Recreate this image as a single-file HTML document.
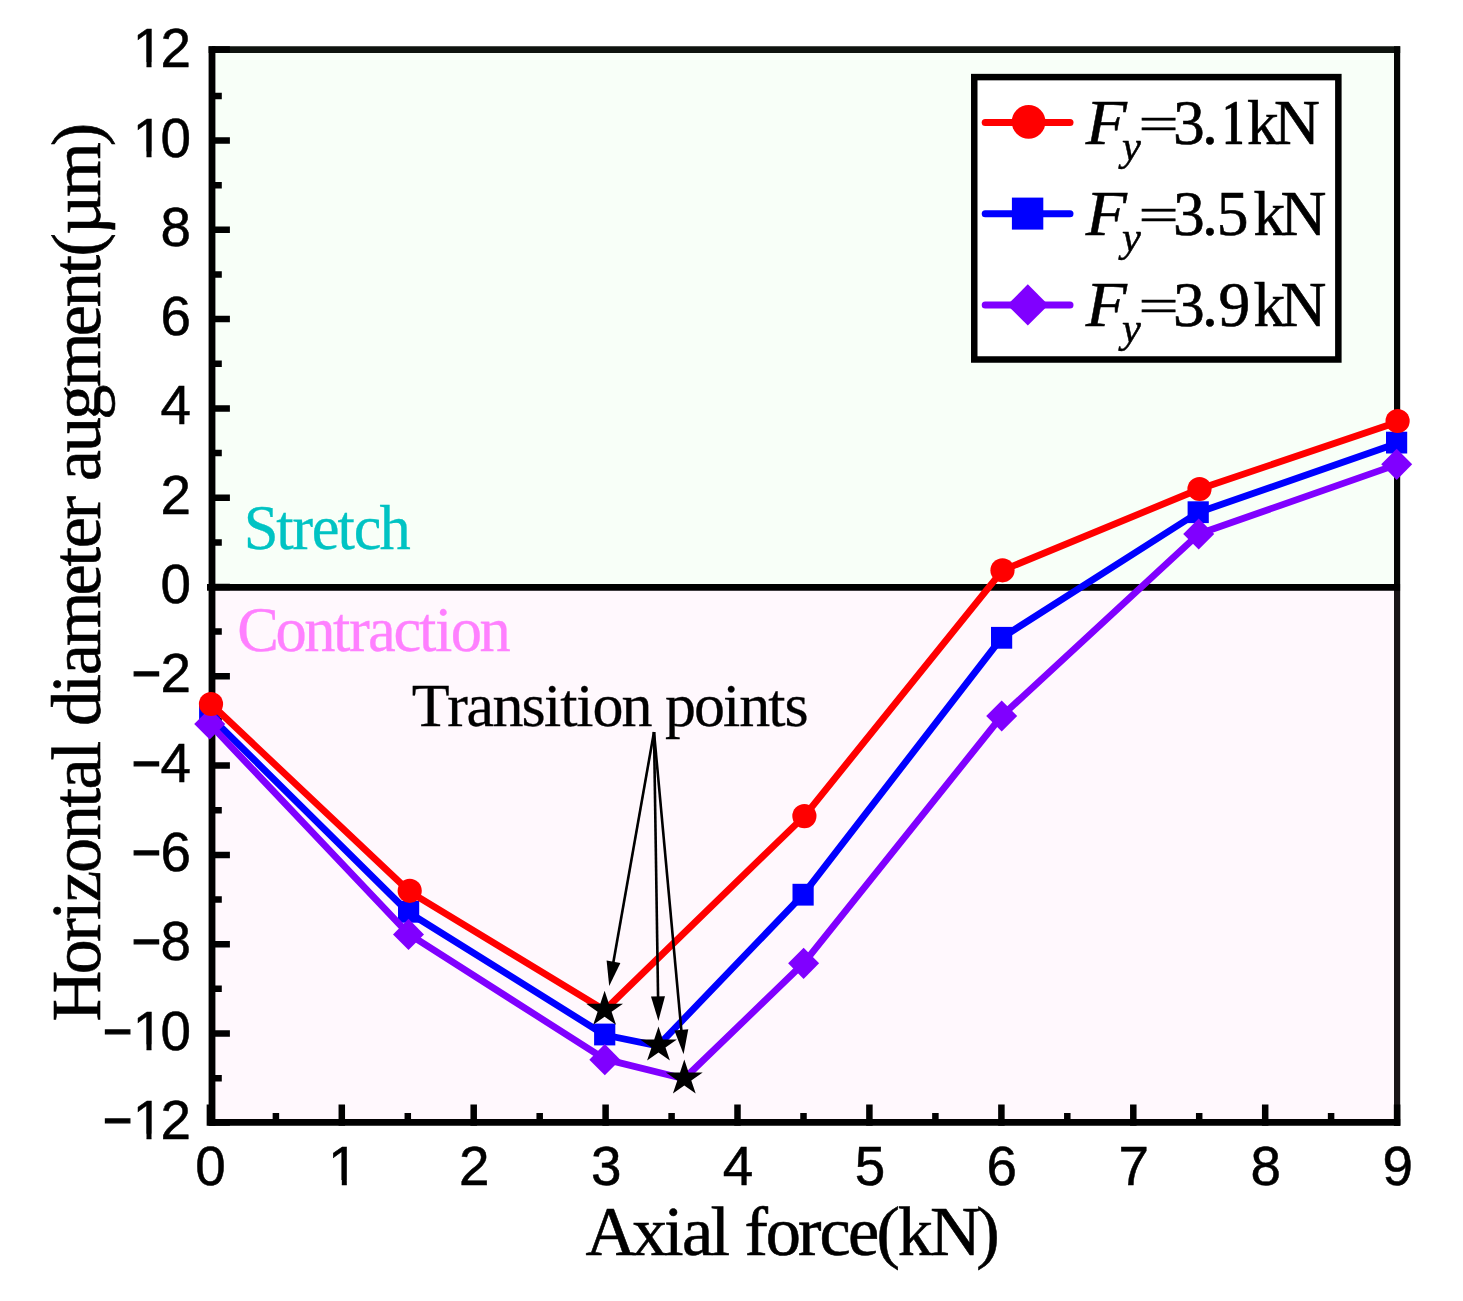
<!DOCTYPE html>
<html lang="en"><head><meta charset="utf-8"><title>Horizontal diameter augment vs axial force</title>
<style>html,body{margin:0;padding:0;background:#fff}svg{display:block}text{font-kerning:none}.ar{font-family:"Liberation Sans",Arial,sans-serif;fill:#000;stroke:#000;stroke-width:.5}.tm{font-family:"Liberation Serif","Times New Roman",serif;fill:#000;stroke:#000;stroke-width:.6}.it{font-family:"Liberation Serif","Times New Roman",serif;font-style:italic;fill:#000;stroke:#000;stroke-width:.5}</style></head><body>
<svg width="1463" height="1301" viewBox="0 0 1463 1301">
<rect width="1463" height="1301" fill="#fff"/>
<rect x="212.0" y="49.6" width="1185.1" height="537.8" fill="#f8fff8"/>
<rect x="212.0" y="587.4" width="1185.1" height="535.0" fill="#fff8fd"/>
<line x1="208.6" y1="49.6" x2="1400.2" y2="49.6" stroke="#0f140f" stroke-width="6.7"/>
<line x1="1397.1" y1="46.3" x2="1397.1" y2="588" stroke="#040604" stroke-width="6.2"/>
<line x1="1397.1" y1="588" x2="1397.1" y2="1125.7" stroke="#191417" stroke-width="6.2"/>
<line x1="212.0" y1="46.3" x2="212.0" y2="1125.7" stroke="#000" stroke-width="6.8"/>
<line x1="208.6" y1="1122.4" x2="1400.2" y2="1122.4" stroke="#000" stroke-width="6.6"/>
<line x1="207" y1="587.4" x2="1400.1" y2="587.4" stroke="#000" stroke-width="6.7"/>
<path d="M212.0 1122.4H229.9 M212.0 1078.2H221.8 M212.0 1033.5H229.9 M212.0 988.8H221.8 M212.0 944.2H229.9 M212.0 899.5H221.8 M212.0 854.9H229.9 M212.0 810.2H221.8 M212.0 765.6H229.9 M212.0 721.0H221.8 M212.0 676.3H229.9 M212.0 631.6H221.8 M212.0 587.0H229.9 M212.0 542.4H221.8 M212.0 497.7H229.9 M212.0 453.1H221.8 M212.0 408.4H229.9 M212.0 363.8H221.8 M212.0 319.1H229.9 M212.0 274.4H221.8 M212.0 229.8H229.9 M212.0 185.2H221.8 M212.0 140.5H229.9 M212.0 95.9H221.8 M212.0 49.6H229.9 M209.9 1125.7V1104.6 M275.9 1122.4V1112.9 M341.8 1125.7V1104.6 M407.8 1122.4V1112.9 M473.7 1125.7V1104.6 M539.7 1122.4V1112.9 M605.6 1125.7V1104.6 M671.6 1122.4V1112.9 M737.5 1125.7V1104.6 M803.5 1122.4V1112.9 M869.4 1125.7V1104.6 M935.4 1122.4V1112.9 M1001.4 1125.7V1104.6 M1067.3 1122.4V1112.9 M1133.3 1125.7V1104.6 M1199.2 1122.4V1112.9 M1265.2 1125.7V1104.6 M1331.1 1122.4V1112.9 M1397.1 1125.7V1104.6" stroke="#000" stroke-width="6.5" fill="none"/>
<defs><clipPath id="nofoot"><path clip-rule="evenodd" d="M0 0H1463V1301H0Z M135.5 1133.7H146.5V1140.8H135.5Z M151.5 1133.7H162.1V1140.8H151.5Z M135.5 1044.4H146.5V1051.5H135.5Z M151.5 1044.4H162.1V1051.5H151.5Z M135.5 151.4H146.5V158.5H135.5Z M151.5 151.4H162.1V158.5H151.5Z M135.5 62.1H146.5V69.2H135.5Z M151.5 62.1H162.1V69.2H151.5Z M330.7 1179.9H341.8V1187.0H330.7Z M346.8 1179.9H357.4V1187.0H346.8Z"/></clipPath></defs>
<text class="ar" font-size="54.8" x="102.8 132.8 160.5" y="1138.8" clip-path="url(#nofoot)"><tspan textLength="29.4" lengthAdjust="spacingAndGlyphs" stroke-width="1.3">−</tspan>12</text>
<text class="ar" font-size="54.8" x="102.8 132.8 160.5" y="1049.5" clip-path="url(#nofoot)"><tspan textLength="29.4" lengthAdjust="spacingAndGlyphs" stroke-width="1.3">−</tspan>10</text>
<text class="ar" font-size="54.8" x="131.5 160.5" y="960.2" clip-path="url(#nofoot)"><tspan textLength="29.4" lengthAdjust="spacingAndGlyphs" stroke-width="1.3">−</tspan>8</text>
<text class="ar" font-size="54.8" x="131.5 160.5" y="870.9" clip-path="url(#nofoot)"><tspan textLength="29.4" lengthAdjust="spacingAndGlyphs" stroke-width="1.3">−</tspan>6</text>
<text class="ar" font-size="54.8" x="131.5 160.5" y="781.6" clip-path="url(#nofoot)"><tspan textLength="29.4" lengthAdjust="spacingAndGlyphs" stroke-width="1.3">−</tspan>4</text>
<text class="ar" font-size="54.8" x="131.5 160.5" y="692.3" clip-path="url(#nofoot)"><tspan textLength="29.4" lengthAdjust="spacingAndGlyphs" stroke-width="1.3">−</tspan>2</text>
<text class="ar" font-size="54.8" x="160.5" y="603.0" clip-path="url(#nofoot)">0</text>
<text class="ar" font-size="54.8" x="160.5" y="513.7" clip-path="url(#nofoot)">2</text>
<text class="ar" font-size="54.8" x="160.5" y="424.4" clip-path="url(#nofoot)">4</text>
<text class="ar" font-size="54.8" x="160.5" y="335.1" clip-path="url(#nofoot)">6</text>
<text class="ar" font-size="54.8" x="160.5" y="245.8" clip-path="url(#nofoot)">8</text>
<text class="ar" font-size="54.8" x="132.8 160.5" y="156.5" clip-path="url(#nofoot)">10</text>
<text class="ar" font-size="54.8" x="132.8 160.5" y="67.2" clip-path="url(#nofoot)">12</text>
<text class="ar" font-size="54.8" x="195.2" y="1185.0" clip-path="url(#nofoot)">0</text>
<text class="ar" font-size="54.8" x="328.1" y="1185.0" clip-path="url(#nofoot)">1</text>
<text class="ar" font-size="54.8" x="459.0" y="1185.0" clip-path="url(#nofoot)">2</text>
<text class="ar" font-size="54.8" x="590.9" y="1185.0" clip-path="url(#nofoot)">3</text>
<text class="ar" font-size="54.8" x="722.8" y="1185.0" clip-path="url(#nofoot)">4</text>
<text class="ar" font-size="54.8" x="854.7" y="1185.0" clip-path="url(#nofoot)">5</text>
<text class="ar" font-size="54.8" x="986.6" y="1185.0" clip-path="url(#nofoot)">6</text>
<text class="ar" font-size="54.8" x="1118.5" y="1185.0" clip-path="url(#nofoot)">7</text>
<text class="ar" font-size="54.8" x="1250.4" y="1185.0" clip-path="url(#nofoot)">8</text>
<text class="ar" font-size="54.8" x="1382.4" y="1185.0" clip-path="url(#nofoot)">9</text>
<polyline points="209.7,715.8 408.6,912.5 604.7,1035.0 657.9,1045.9 803.1,894.7 1001.6,637.8 1198.2,512.5 1396.6,443.5" fill="none" stroke="#0000ff" stroke-width="6.8" stroke-linejoin="round" stroke-linecap="round"/>
<rect x="199.1" y="704.9" width="21.2" height="21.8" fill="#0000ff"/>
<rect x="398.0" y="900.9" width="21.2" height="21.8" fill="#0000ff"/>
<rect x="594.1" y="1023.6" width="21.2" height="21.8" fill="#0000ff"/>
<rect x="792.5" y="883.8" width="21.2" height="21.8" fill="#0000ff"/>
<rect x="991.0" y="626.9" width="21.2" height="21.8" fill="#0000ff"/>
<rect x="1187.6" y="501.3" width="21.2" height="21.8" fill="#0000ff"/>
<rect x="1386.0" y="431.7" width="21.2" height="21.8" fill="#0000ff"/>
<polyline points="209.7,724.0 408.5,933.9 604.8,1059.1 684.1,1078.8 803.6,963.3 1001.7,716.0 1198.7,534.0 1396.7,464.6" fill="none" stroke="#8000ff" stroke-width="6.8" stroke-linejoin="round" stroke-linecap="round"/>
<polygon points="194.2,724.0 209.7,708.4 225.2,724.0 209.7,739.6" fill="#8000ff"/>
<polygon points="393.0,934.4 408.5,918.8 424.0,934.4 408.5,950.0" fill="#8000ff"/>
<polygon points="589.3,1059.7 604.8,1044.1 620.3,1059.7 604.8,1075.3" fill="#8000ff"/>
<polygon points="788.1,963.3 803.6,947.7 819.1,963.3 803.6,978.9" fill="#8000ff"/>
<polygon points="986.2,716.0 1001.7,700.4 1017.2,716.0 1001.7,731.6" fill="#8000ff"/>
<polygon points="1183.2,534.0 1198.7,518.4 1214.2,534.0 1198.7,549.6" fill="#8000ff"/>
<polygon points="1381.2,464.3 1396.7,448.7 1412.2,464.3 1396.7,479.9" fill="#8000ff"/>
<polyline points="211.0,704.0 409.7,891.8 604.6,1010.2 804.4,816.1 1002.5,570.3 1199.5,489.0 1397.6,422.0" fill="none" stroke="#ff0000" stroke-width="6.8" stroke-linejoin="round" stroke-linecap="round"/>
<circle cx="211.0" cy="704.0" r="12.1" fill="#ff0000"/>
<circle cx="409.7" cy="890.8" r="12.1" fill="#ff0000"/>
<circle cx="804.4" cy="816.1" r="12.1" fill="#ff0000"/>
<circle cx="1002.5" cy="570.3" r="12.1" fill="#ff0000"/>
<circle cx="1199.5" cy="489.0" r="12.1" fill="#ff0000"/>
<circle cx="1397.6" cy="421.0" r="12.1" fill="#ff0000"/>
<polygon points="604.6,990.8 608.9,1003.8 623.0,1003.8 611.6,1011.8 616.0,1024.8 604.6,1016.8 593.2,1024.8 597.6,1011.8 586.2,1003.8 600.3,1003.8" fill="#000"/>
<polygon points="658.5,1026.5 662.8,1039.5 676.9,1039.5 665.5,1047.5 669.9,1060.5 658.5,1052.5 647.1,1060.5 651.5,1047.5 640.1,1039.5 654.2,1039.5" fill="#000"/>
<polygon points="684.3,1059.5 688.6,1072.5 702.7,1072.5 691.3,1080.5 695.7,1093.5 684.3,1085.5 672.9,1093.5 677.3,1080.5 665.9,1072.5 680.0,1072.5" fill="#000"/>
<line x1="654.0" y1="732.0" x2="613.1" y2="963.7" stroke="#000" stroke-width="2.6"/>
<polygon points="609.2,985.9 606.6,960.6 620.4,963.0" fill="#000"/>
<line x1="654.0" y1="732.0" x2="658.1" y2="998.4" stroke="#000" stroke-width="2.6"/>
<polygon points="658.4,1020.9 651.0,996.5 665.0,996.3" fill="#000"/>
<line x1="654.0" y1="732.0" x2="681.5" y2="1031.8" stroke="#000" stroke-width="2.6"/>
<polygon points="683.6,1054.2 674.4,1030.4 688.3,1029.2" fill="#000"/>
<text class="tm" font-size="62" x="411.8 447.3 466.6 492.4 521.4 544.0 560.2 576.3 592.4 621.5 650.5 665.0 694.1 723.1 739.2 768.3 784.4" y="726.3" style="stroke-width:.3">Transition points</text>
<text class="tm" font-size="62.5" x="243.8 276.2 292.3 311.7 337.5 353.7 379.5" y="548.9" style="fill:#00c3c3;stroke:#00c3c3;stroke-width:.3">Stretch</text>
<text class="tm" font-size="62.5" x="237.3 275.6 304.3 333.0 348.9 368.0 393.5 418.9 434.9 450.8 479.5" y="651.2" style="fill:#ff80ff;stroke:#ff80ff;stroke-width:.3">Contraction</text>
<text class="tm" font-size="70.4" x="585.6 632.0 664.1 682.0 710.5 728.4 744.4 765.8 798.0 819.4 847.9 876.4 897.8 929.9 976.3" y="1255.0">Axial force(kN)</text>
<g transform="translate(100 1019.5) rotate(-90)">
<text class="tm" font-size="70.4" x="-2.0 45.1 77.8 99.5 117.6 146.6 179.3 211.9 230.1 259.0 277.2 293.5 326.1 344.3 373.3 424.0 453.0 471.2 500.1 521.9 538.2 567.2 599.8 632.5 683.2 712.2 744.9 763.0 784.7 822.4 873.2" y="0">Horizontal diameter augment(µm)</text>
</g>
<rect x="974.25" y="77.1" width="364.1" height="282.4" fill="#fff" stroke="#000" stroke-width="6.5"/>
<line x1="985.2" y1="122.45" x2="1070.0" y2="122.45" stroke="#ff0000" stroke-width="7" stroke-linecap="round"/>
<line x1="985.2" y1="213.65" x2="1070.0" y2="213.65" stroke="#0000ff" stroke-width="7" stroke-linecap="round"/>
<line x1="985.2" y1="304.9" x2="1070.0" y2="304.9" stroke="#8000ff" stroke-width="7" stroke-linecap="round"/>
<circle cx="1028.6" cy="121.9" r="16.9" fill="#ff0000"/>
<rect x="1011.9" y="197.6" width="31.4" height="32" fill="#0000ff"/>
<polygon points="1007.2,304.95 1027.8,284.35 1048.4,304.95 1027.8,325.55" fill="#8000ff"/>
<defs><clipPath id="one"><path clip-rule="evenodd" d="M1060 60H1340V180H1060Z M1219 100H1225.7V126H1219Z M1219 138H1225.7V146H1219Z M1242.1 138H1247.6V146H1242.1Z"/></clipPath></defs>
<text class="tm" font-size="63.5" y="143.7" clip-path="url(#one)"><tspan class="it" x="1085.7" textLength="41.1" lengthAdjust="spacingAndGlyphs">F</tspan><tspan class="it" font-size="42.4" x="1122.1" y="159.9">y</tspan><tspan font-size="47.0" x="1138.5" y="139.3" textLength="40.1" lengthAdjust="spacingAndGlyphs" stroke-width=".5">=</tspan><tspan x="1173.1 1202.0 1217.2 1246.9 1274.0" y="143.7">3.1kN</tspan></text>
<text class="tm" font-size="63.5" y="234.7"><tspan class="it" x="1085.7" textLength="41.1" lengthAdjust="spacingAndGlyphs">F</tspan><tspan class="it" font-size="42.4" x="1122.1" y="250.9">y</tspan><tspan font-size="47.0" x="1138.5" y="230.3" textLength="40.1" lengthAdjust="spacingAndGlyphs" stroke-width=".5">=</tspan><tspan x="1173.1 1202.0 1216.7 1253.4 1280.4" y="234.7">3.5kN</tspan></text>
<text class="tm" font-size="63.5" y="325.7"><tspan class="it" x="1085.7" textLength="41.1" lengthAdjust="spacingAndGlyphs">F</tspan><tspan class="it" font-size="42.4" x="1122.1" y="341.9">y</tspan><tspan font-size="47.0" x="1138.5" y="321.3" textLength="40.1" lengthAdjust="spacingAndGlyphs" stroke-width=".5">=</tspan><tspan x="1173.1 1202.0 1218.4 1253.4 1280.4" y="325.7">3.9kN</tspan></text>
</svg></body></html>
